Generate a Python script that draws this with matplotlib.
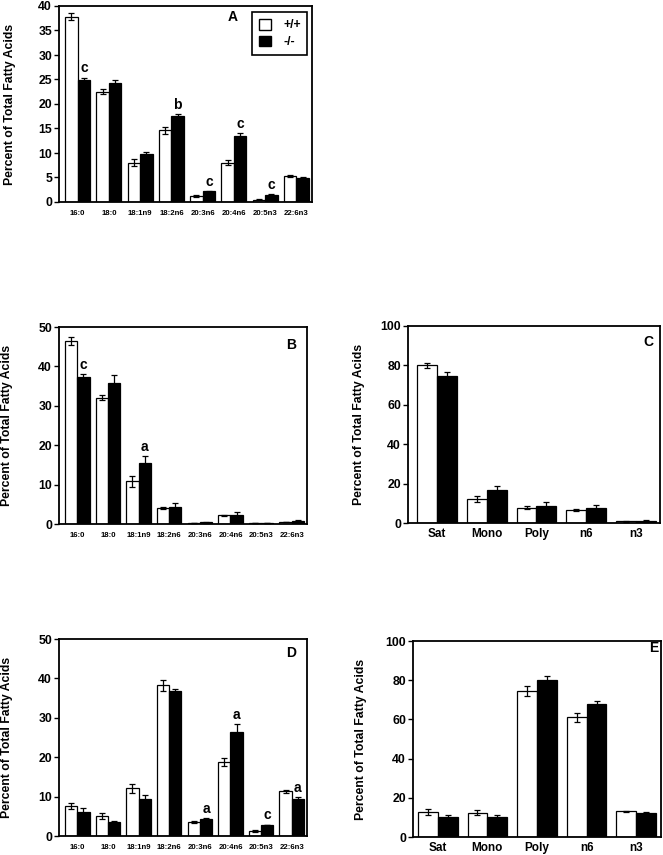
import matplotlib

matplotlib.use("Agg")
import matplotlib.pyplot as plt
import numpy as np
from matplotlib.patches import Patch

plt.rcParams["font.family"] = ["Liberation Sans", "DejaVu Sans"]
plt.rcParams["font.weight"] = "bold"

W, H = 663, 855

FA = ["16:0", "18:0", "18:1n9", "18:2n6", "20:3n6", "20:4n6", "20:5n3", "22:6n3"]
CLS = ["Sat", "Mono", "Poly", "n6", "n3"]

# panel A
a_wt = [37.8, 22.5, 8.0, 14.6, 1.2, 8.0, 0.5, 5.3]
a_wt_err = [0.7, 0.5, 0.7, 0.8, 0.15, 0.5, 0.1, 0.2]
a_ko = [24.8, 24.3, 9.7, 17.6, 2.2, 13.5, 1.5, 4.9]
a_ko_err = [0.6, 0.6, 0.5, 0.3, 0.1, 0.5, 0.1, 0.1]
a_sig = ["c", "", "", "b", "c", "c", "c", ""]

# panel B
b_wt = [46.5, 32.1, 10.8, 4.0, 0.3, 2.2, 0.2, 0.5]
b_wt_err = [1.0, 0.6, 1.3, 0.3, 0.05, 0.2, 0.05, 0.1]
b_ko = [37.2, 35.9, 15.6, 4.4, 0.4, 2.4, 0.2, 0.8]
b_ko_err = [0.8, 2.0, 1.6, 1.0, 0.05, 0.6, 0.05, 0.1]
b_sig = ["c", "", "a", "", "", "", "", ""]

# panel C
c_wt = [80.0, 12.0, 7.7, 6.8, 0.8]
c_wt_err = [1.2, 1.5, 0.8, 0.5, 0.1]
c_ko = [74.5, 16.9, 8.7, 7.4, 1.0]
c_ko_err = [2.2, 1.8, 2.0, 1.6, 0.3]
c_sig = ["", "", "", "", ""]

# panel D
d_wt = [7.7, 5.1, 12.1, 38.2, 3.6, 18.8, 1.3, 11.4]
d_wt_err = [0.8, 0.8, 1.2, 1.3, 0.2, 1.0, 0.2, 0.4]
d_ko = [6.0, 3.6, 9.5, 36.7, 4.3, 26.5, 2.8, 9.3]
d_ko_err = [1.0, 0.3, 1.0, 0.6, 0.2, 2.0, 0.1, 0.7]
d_sig = ["", "", "", "", "a", "a", "c", "a"]

# panel E
e_wt = [12.8, 12.4, 74.5, 61.2, 13.1]
e_wt_err = [1.7, 1.3, 2.5, 2.3, 0.4]
e_ko = [10.0, 10.0, 80.3, 67.8, 12.5]
e_ko_err = [1.0, 1.0, 1.8, 1.6, 0.4]
e_sig = ["", "", "", "", ""]


def px_axes(fig, left, right, top, bottom):
    return fig.add_axes([left / W, 1 - bottom / H, (right - left) / W, (bottom - top) / H])


def panel(ax, cats, wt, wt_err, ko, ko_err, sig, ymax, ystep, letter, letter_xy,
          xlim, xfs, xpad, label_x):
    x = np.arange(len(cats))
    w = 0.4
    ax.bar(x - w / 2, wt, w, color="white", edgecolor="black", linewidth=0.9, zorder=2)
    ax.bar(x + w / 2, ko, w, color="black", edgecolor="black", linewidth=0.9, zorder=2)
    ax.errorbar(x - w / 2, wt, yerr=wt_err, fmt="none", ecolor="black",
                elinewidth=0.9, capsize=2, capthick=0.9, zorder=3)
    ax.errorbar(x + w / 2, ko, yerr=ko_err, fmt="none", ecolor="black",
                elinewidth=0.9, capsize=2, capthick=0.9, zorder=3)
    for i, s in enumerate(sig):
        if s:
            ax.annotate(s, (x[i] + w / 2, ko[i] + ko_err[i]), xytext=(0, 1.5),
                        textcoords="offset points", ha="center", va="bottom",
                        fontsize=10, fontweight="bold")
    ax.set_ylim(0, ymax)
    ax.set_yticks(np.arange(0, ymax + 0.1, ystep))
    ax.set_xlim(*xlim)
    ax.set_xticks(x)
    ax.set_xticklabels(cats, fontsize=xfs, fontweight="bold")
    ax.tick_params(axis="x", length=0, pad=xpad)
    ax.tick_params(axis="y", length=3.5, width=1.0, labelsize=8.8, pad=1.5)
    for t in ax.get_yticklabels():
        t.set_fontweight("bold")
    for sp in ax.spines.values():
        sp.set_linewidth(1.3)
    ax.set_ylabel("Percent of Total Fatty Acids", fontsize=8.8, fontweight="bold")
    ax.yaxis.set_label_coords(label_x, 0.5)
    ax.text(letter_xy[0], letter_xy[1], letter, transform=ax.transAxes,
            ha="center", va="center", fontsize=10, fontweight="bold")


fig = plt.figure(figsize=(W / 100, H / 100), dpi=100)

axA = px_axes(fig, 59, 312, 6, 202)
panel(axA, FA, a_wt, a_wt_err, a_ko, a_ko_err, a_sig, 40, 5, "A", (0.685, 0.945),
      (-0.6, 7.5), 5.6, 5.5, -0.17)
leg = axA.legend(handles=[Patch(facecolor="white", edgecolor="black", label="+/+"),
                          Patch(facecolor="black", edgecolor="black", label="-/-")],
                 loc="upper right", bbox_to_anchor=(0.982, 0.97), fancybox=False,
                 framealpha=1, edgecolor="black", prop={"weight": "bold", "size": 8.8},
                 handlelength=1.0, handleheight=1.0, handletextpad=1.0,
                 borderpad=0.55, labelspacing=0.35, borderaxespad=0)
leg.get_frame().set_linewidth(1.2)

axB = px_axes(fig, 59, 307, 327, 524)
panel(axB, FA, b_wt, b_wt_err, b_ko, b_ko_err, b_sig, 50, 10, "B", (0.935, 0.91),
      (-0.6, 7.5), 5.6, 5.5, -0.185)

axC = px_axes(fig, 408, 660, 326, 523)
panel(axC, CLS, c_wt, c_wt_err, c_ko, c_ko_err, c_sig, 100, 20, "C", (0.955, 0.92),
      (-0.58, 4.48), 8.5, 3.5, -0.17)

axD = px_axes(fig, 59, 307, 639, 836)
panel(axD, FA, d_wt, d_wt_err, d_ko, d_ko_err, d_sig, 50, 10, "D", (0.935, 0.93),
      (-0.6, 7.5), 5.6, 5.5, -0.185)

axE = px_axes(fig, 413, 661, 641, 837)
panel(axE, CLS, e_wt, e_wt_err, e_ko, e_ko_err, e_sig, 100, 20, "E", (0.97, 0.965),
      (-0.5, 4.5), 8.5, 3.5, -0.185)

fig.savefig("out.png", dpi=100)
